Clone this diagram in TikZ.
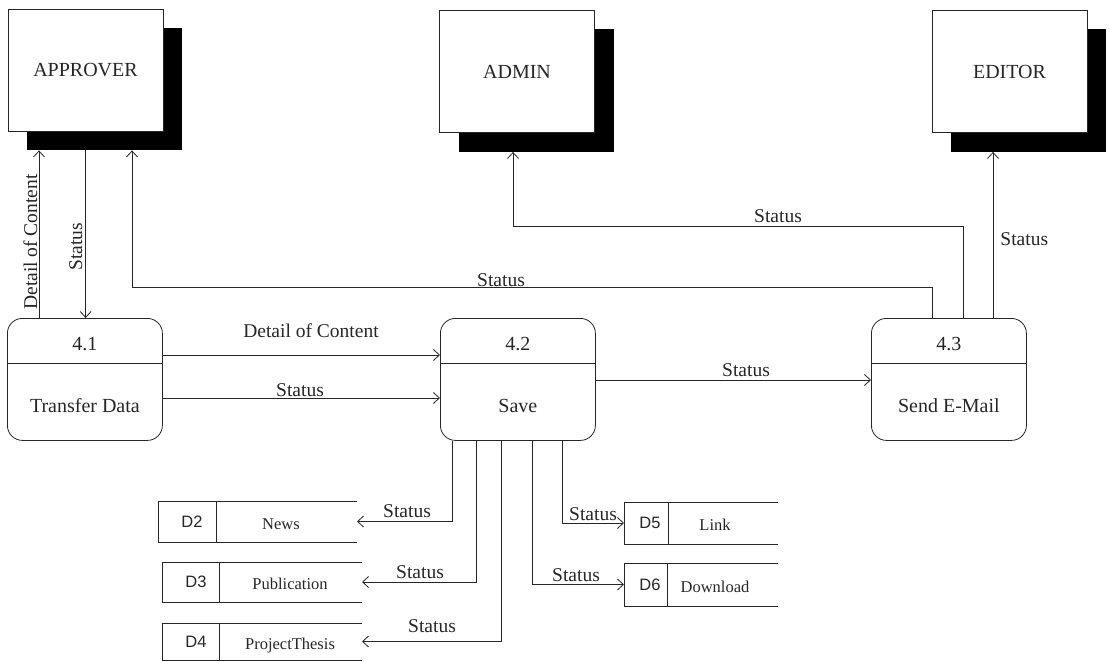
\documentclass[tikz,border=0pt]{standalone}
\usepackage{fontspec}
\setmainfont{Liberation Serif}
\newfontfamily\idfont{Liberation Sans}
\usetikzlibrary{arrows.meta,shadows,positioning}
\tikzset{
  entity/.style={draw, fill=white, minimum width=155pt, minimum height=122pt, inner sep=0pt,
    font=\fontsize{20}{24}\selectfont,
    drop shadow={shadow xshift=19pt, shadow yshift=-19pt, fill=black, opacity=1}},
  process/.style={draw, rounded corners=15pt, minimum width=155pt, minimum height=122pt,
    inner sep=0pt, anchor=north west},
  store/.style={inner sep=0pt, outer sep=0pt, anchor=north west},
  flow/.style={-{Straight Barb[length=6pt,width=11pt]}},
  lbl/.style={font=\fontsize{19.5}{22}\selectfont, inner sep=0pt, anchor=base},
  ptext/.style={font=\fontsize{20}{24}\selectfont, inner sep=0pt, anchor=base},
  idtext/.style={font=\idfont\fontsize{16.5}{20}\selectfont, inner sep=0pt, anchor=base},
  stext/.style={font=\fontsize{16.5}{20}\selectfont, inner sep=0pt, anchor=base}
}
\begin{document}
\begin{tikzpicture}[x=1pt, y=-1pt, line width=0.8pt, color=black!85]
  \useasboundingbox (0,0) rectangle (1110,661);
  % externe
  \node[entity] (approver) at (85.5,70) {APPROVER};
  \node[entity] (admin) at (517,71.5) {ADMIN};
  \node[entity] (editor) at (1009.5,71.5) {EDITOR};
  \coordinate (apS) at ([yshift=-19pt]approver.south west);
  \coordinate (adS) at ([yshift=-19pt]admin.south west);
  \coordinate (edS) at ([yshift=-19pt]editor.south west);
  % processi
  \foreach \n/\num/\txt/\x in {p41/4.1/Transfer Data/7, p42/4.2/Save/440, p43/4.3/Send E-Mail/871} {
    \node[process] (\n) at (\x,318) {};
    \draw ([yshift=-45pt]\n.north west) -- ([yshift=-45pt]\n.north east);
    \node[ptext] (\n-num) at ([yshift=-32pt]\n.north) {\num};
    \node[ptext] (\n-txt) at ([yshift=-94pt]\n.north) {\txt};
  }
  % archivi
  \foreach \n/\id/\txt/\x/\y/\w/\h/\dv/\ix/\tx in {
      d2/D2/News/158/501/199/41/58/34/123,
      d3/D3/Publication/162/562/200/40/57/34/128,
      d4/D4/ProjectThesis/162/623/200/37/57/34/128,
      d5/D5/Link/624/502/154/42/44/26/91,
      d6/D6/Download/624/563/154/43/43/26/91} {
    \node[store, minimum width=\w pt, minimum height=\h pt] (\n) at (\x,\y) {};
    \draw (\n.north east) -- (\n.north west) -- (\n.south west) -- (\n.south east);
    \draw ([xshift=\dv pt]\n.north west) -- ([xshift=\dv pt]\n.south west);
    \node[idtext] (\n-id) at ([xshift=\ix pt, yshift=-5.5pt]\n.west) {\id};
    \node[stext] (\n-txt) at ([xshift=\tx pt, yshift=-7.5pt]\n.west) {\txt};
  }
  % flussi con approver
  \draw[flow] ([xshift=32pt]p41.north west) -- ([xshift=32pt]p41.north west |- apS);
  \node[lbl, rotate=90] (lDetUp) at (37,242) {Detail of Content};
  \draw[flow] ([xshift=78pt]apS) -- ([xshift=78pt]apS |- p41.north);
  \node[lbl, rotate=90] (lStDown) at (82,247) {Status};
  \coordinate (bendA) at (132,287);
  \draw[flow] ([xshift=61pt]p43.north west) |- (bendA) -- (bendA |- apS);
  \node[lbl] (lStAp) at (501,286) {Status};
  % admin, editor
  \coordinate (bendB) at (513,226);
  \draw[flow] ([xshift=92pt]p43.north west) |- (bendB) -- (bendB |- adS);
  \node[lbl] (lStAd) at (778,222) {Status};
  \draw[flow] ([xshift=122pt]p43.north west) -- ([xshift=122pt]p43.north west |- edS);
  \node[lbl, anchor=base west] (lStEd) at (1000,245) {Status};
  % tra processi
  \draw[flow] ([yshift=-37pt]p41.north east) -- ([yshift=-37pt]p41.north east -| p42.west);
  \node[lbl] (lDet) at (311,337) {Detail of Content};
  \draw[flow] ([yshift=-80pt]p41.north east) -- ([yshift=-80pt]p41.north east -| p42.west);
  \node[lbl] (lSt12) at (300,396) {Status};
  \draw[flow] ([yshift=-62pt]p42.north east) -- ([yshift=-62pt]p42.north east -| p43.west);
  \node[lbl] (lSt23) at (746,376) {Status};
  % verso archivi
  \draw[flow] ([xshift=12pt]p42.south west) |- (d2.east);
  \node[lbl] (lSt2) at (407,517) {Status};
  \draw[flow] ([xshift=36pt]p42.south west) |- (d3.east);
  \node[lbl] (lSt3) at (420,578) {Status};
  \draw[flow] ([xshift=61pt]p42.south west) |- (d4.east);
  \node[lbl] (lSt4) at (432,632) {Status};
  \draw[flow] ([xshift=122pt]p42.south west) |- (d5.west);
  \node[lbl] (lSt5) at (593,520) {Status};
  \draw[flow] ([xshift=92pt]p42.south west) |- (d6.west);
  \node[lbl] (lSt6) at (576,581) {Status};
\end{tikzpicture}
\end{document}
